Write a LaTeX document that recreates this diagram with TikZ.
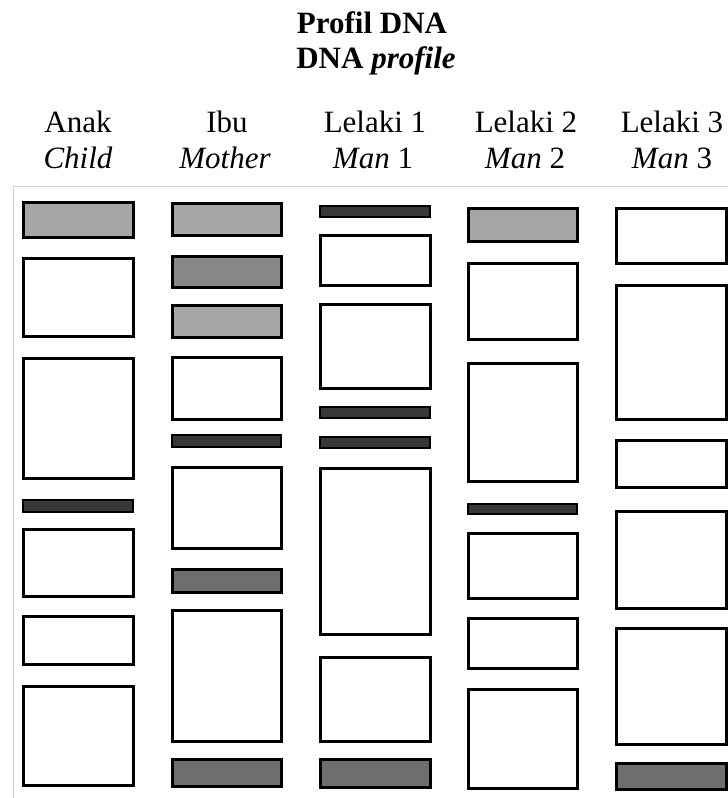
\documentclass[tikz,border=0pt]{standalone}
\usepackage{fontspec}
\setmainfont{Liberation Serif}
\usepackage{tikz}

\begin{document}
\begin{tikzpicture}[x=1pt, y=-1pt,
		band/.style={draw=black, line width=3pt, fill=white},
		lightband/.style={band, fill=black!35},
		midband/.style={band, fill=black!47},
		darkband/.style={band, fill=black!57},
		thinband/.style={band, line width=2.4pt, fill=black!78},
		label/.style={anchor=base, inner sep=0pt, font=\fontsize{31}{31}\selectfont}]
			%%%%% START %%%%%
			
			\useasboundingbox (0, 0) rectangle (728, 798);
			
			\node[label, font=\fontsize{31}{31}\selectfont\bfseries] (title) at (372, 33) {Profil DNA};
			\node[label, font=\fontsize{31}{31}\selectfont\bfseries] (subtitle) at (376, 68) {DNA \textit{profile}};
			
			\node[label] (anak) at (78, 132) {Anak};
			\node[label] (child) at (78, 168) {\textit{Child}};
			\node[label] (ibu) at (227, 132) {Ibu};
			\node[label] (mother) at (225, 168) {\textit{Mother}};
			\node[label] (lelakia) at (375, 132) {Lelaki 1};
			\node[label] (mana) at (373, 168) {\textit{Man} 1};
			\node[label] (lelakib) at (526, 132) {Lelaki 2};
			\node[label] (manb) at (525, 168) {\textit{Man} 2};
			\node[label] (lelakic) at (672, 132) {Lelaki 3};
			\node[label] (manc) at (672, 168) {\textit{Man} 3};
			
			% frame of the gel
			\draw[line width=0.8pt, color=black!18] (740, 186) -- (13, 186) -- (13, 798);
			
			% Anak
			\draw[lightband] (23, 202) rectangle (133, 237);
			\draw[band] (23, 258) rectangle (133, 336);
			\draw[band] (23, 358) rectangle (133, 478);
			\draw[thinband] (23, 500) rectangle (133, 512);
			\draw[band] (23, 529) rectangle (133, 596);
			\draw[band] (23, 616) rectangle (133, 664);
			\draw[band] (23, 686) rectangle (133, 785);
			
			% Ibu
			\draw[lightband] (172, 203) rectangle (281, 235);
			\draw[midband] (172, 256) rectangle (281, 287);
			\draw[lightband] (172, 305) rectangle (281, 337);
			\draw[band] (172, 357) rectangle (281, 419);
			\draw[thinband] (172, 435) rectangle (281, 447);
			\draw[band] (172, 467) rectangle (281, 548);
			\draw[darkband] (172, 569) rectangle (281, 592);
			\draw[band] (172, 610) rectangle (281, 741);
			\draw[darkband] (172, 759) rectangle (281, 786);
			
			% Lelaki 1
			\draw[thinband] (320, 206) rectangle (430, 217);
			\draw[band] (320, 235) rectangle (430, 285);
			\draw[band] (320, 304) rectangle (430, 388);
			\draw[thinband] (320, 407) rectangle (430, 418);
			\draw[thinband] (320, 437) rectangle (430, 448);
			\draw[band] (320, 468) rectangle (430, 634);
			\draw[band] (320, 657) rectangle (430, 741);
			\draw[darkband] (320, 759) rectangle (430, 787);
			
			% Lelaki 2
			\draw[lightband] (468, 208) rectangle (577, 241);
			\draw[band] (468, 263) rectangle (577, 339);
			\draw[band] (468, 363) rectangle (577, 481);
			\draw[thinband] (468, 504) rectangle (577, 514);
			\draw[band] (468, 533) rectangle (577, 598);
			\draw[band] (468, 618) rectangle (577, 668);
			\draw[band] (468, 689) rectangle (577, 788);
			
			% Lelaki 3
			\draw[band] (616, 208) rectangle (726, 263);
			\draw[band] (616, 285) rectangle (726, 419);
			\draw[band] (616, 440) rectangle (726, 487);
			\draw[band] (616, 511) rectangle (726, 608);
			\draw[band] (616, 628) rectangle (726, 744);
			\draw[darkband] (616, 763) rectangle (726, 789);
			
			%%%%% END %%%%%
		\end{tikzpicture}
\end{document}
